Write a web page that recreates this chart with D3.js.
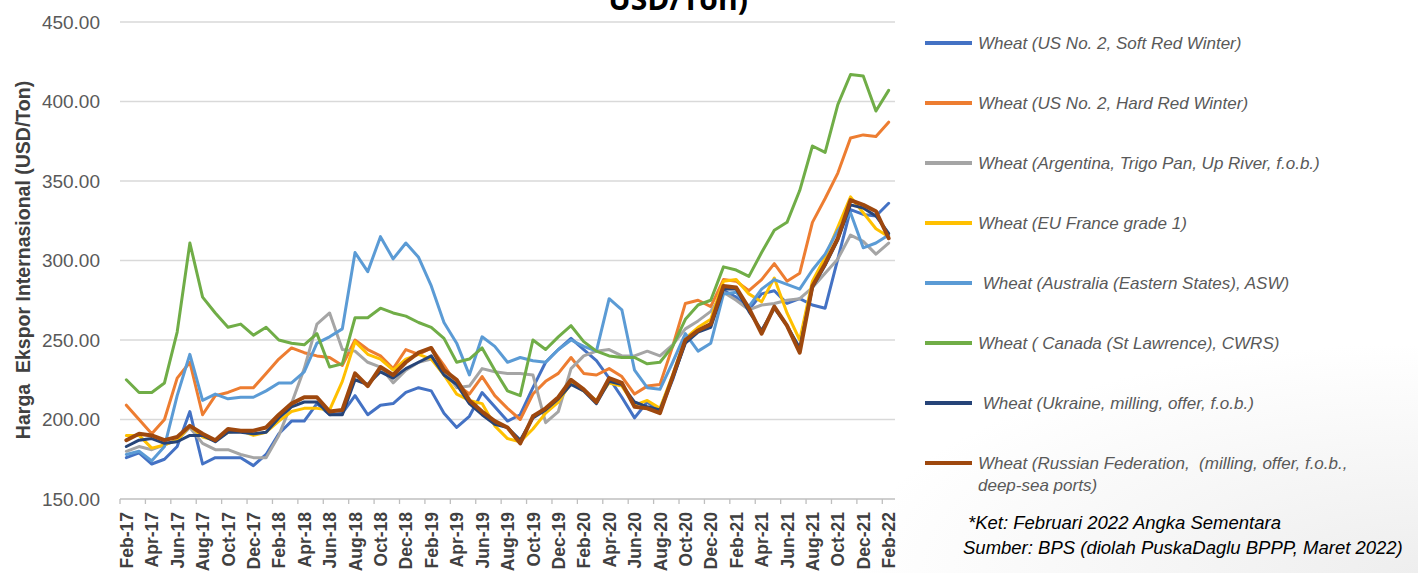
<!DOCTYPE html>
<html>
<head>
<meta charset="utf-8">
<script src="https://cdn.jsdelivr.net/npm/d3@7"></script>
<style>
  body { margin: 0; background: #fff; }
  svg { display: block; }
</style>
</head>
<body>
<svg id="chart" width="1418" height="573"></svg>
<script>
// months on the x axis
var months = ["Feb-17","Mar-17","Apr-17","May-17","Jun-17","Jul-17","Aug-17","Sep-17","Oct-17","Nov-17","Dec-17",
  "Jan-18","Feb-18","Mar-18","Apr-18","May-18","Jun-18","Jul-18","Aug-18","Sep-18","Oct-18","Nov-18","Dec-18",
  "Jan-19","Feb-19","Mar-19","Apr-19","May-19","Jun-19","Jul-19","Aug-19","Sep-19","Oct-19","Nov-19","Dec-19",
  "Jan-20","Feb-20","Mar-20","Apr-20","May-20","Jun-20","Jul-20","Aug-20","Sep-20","Oct-20","Nov-20","Dec-20",
  "Jan-21","Feb-21","Mar-21","Apr-21","May-21","Jun-21","Jul-21","Aug-21","Sep-21","Oct-21","Nov-21","Dec-21",
  "Jan-22","Feb-22"];

// export prices, USD/ton
var usSoftRed = [176,179,172,175,183,205,172,176,176,176,171,178,191,199,199,210,203,204,215,203,209,210,217,220,218,204,195,202,217,208,199,203,220,236,244,251,244,237,226,214,201,211,205,225,249,256,260,281,277,269,279,281,273,276,272,270,301,332,329,328,336];
var usHardRed = [209,200,191,200,226,236,203,215,217,220,220,229,238,245,242,240,239,234,250,244,240,232,244,241,245,234,222,216,227,215,207,200,216,224,229,239,229,228,232,227,216,221,222,246,273,275,271,288,287,281,288,298,287,292,324,339,355,377,379,378,387];
var argentina = [180,183,181,184,187,195,185,181,181,178,176,176,190,210,232,260,267,244,243,236,233,223,231,236,238,231,220,221,232,230,229,229,228,198,205,232,240,243,244,240,240,243,240,247,257,262,268,280,275,269,272,273,275,276,283,292,301,316,312,304,311];
var euFrance = [190,190,182,184,187,196,189,187,192,193,190,192,199,205,207,207,206,224,249,241,238,231,238,241,238,228,216,212,210,196,188,186,194,204,211,223,218,212,223,221,209,212,207,228,251,258,263,287,288,279,274,289,267,250,287,302,321,340,330,320,315];
var australia = [178,180,174,183,215,241,212,216,213,214,214,218,223,223,230,248,252,257,305,293,315,301,311,302,284,261,248,228,252,246,236,239,237,236,244,250,246,243,276,269,231,220,219,236,254,243,248,279,280,271,282,288,285,282,294,304,319,330,308,311,316];
var canada = [225,217,217,223,255,311,277,267,258,260,253,258,250,248,247,254,233,235,264,264,270,267,265,261,258,251,236,238,245,231,218,215,250,244,252,259,249,243,240,239,239,235,236,246,263,272,275,296,294,290,305,319,324,344,372,368,398,417,416,394,407];
var ukraine = [183,187,188,185,186,190,190,186,192,192,191,192,201,208,211,211,203,203,225,222,230,226,232,236,240,228,222,210,203,197,195,187,201,206,213,222,218,210,224,222,211,208,206,226,248,255,258,282,282,268,256,270,259,245,283,297,313,335,333,328,317];
var russia = [187,191,190,187,189,196,191,187,194,193,193,195,203,210,214,214,205,206,229,221,233,228,236,242,245,231,225,212,205,199,195,185,202,207,214,225,219,211,226,223,208,207,204,227,250,256,260,284,283,270,254,271,259,242,284,298,314,338,335,331,314];

var seriesNames = ["Wheat (US No. 2, Soft Red Winter)",
  "Wheat (US No. 2, Hard Red Winter)",
  "Wheat (Argentina, Trigo Pan, Up River, f.o.b.)",
  "Wheat (EU France grade 1)",
  " Wheat (Australia (Eastern States), ASW)",
  "Wheat ( Canada (St Lawrence), CWRS)",
  " Wheat (Ukraine, milling, offer, f.o.b.)",
  "Wheat (Russian Federation,  (milling, offer, f.o.b.,"];
var seriesColors = ["#4472C4","#ED7D31","#A5A5A5","#FFC000","#5B9BD5","#70AD47","#264478","#9E480E"];
var seriesData = [usSoftRed, usHardRed, argentina, euFrance, australia, canada, ukraine, russia];

var yTicks = [150,200,250,300,350,400,450];

var svg = d3.select("#chart");

// faint grey shade in the lower right corner like the slide background
var defs = svg.append("defs");
var grad = defs.append("radialGradient")
  .attr("id", "shade")
  .attr("cx", "1").attr("cy", "1").attr("r", "0.4");
grad.append("stop").attr("offset", "0").attr("stop-color", "#eeeeee");
grad.append("stop").attr("offset", "1").attr("stop-color", "#ffffff");
svg.append("rect")
  .attr("width", 1418).attr("height", 573)
  .attr("fill", "url(#shade)");

// scales - categories sit between tick marks like the excel chart
var x = d3.scalePoint().domain(months).range([120, 895]).padding(0.5);
var y = d3.scaleLinear().domain([150, 450]).range([499, 22]);
var step = x.step();

// title, only the bottom of the second line is visible
svg.append("text")
  .attr("x", 678).attr("y", 10)
  .attr("text-anchor", "middle")
  .style("font-family", "'Open Sans', sans-serif")
  .style("font-weight", "bold")
  .style("font-size", "30px")
  .attr("fill", "#000")
  .text("USD/Ton)");

// horizontal grid lines
svg.append("g").selectAll("line")
  .data(yTicks.slice(1))
  .enter().append("line")
  .attr("x1", 120).attr("x2", 895)
  .attr("y1", function(d) { return y(d); })
  .attr("y2", function(d) { return y(d); })
  .attr("stroke", "#d9d9d9")
  .attr("stroke-width", 1.3);

// y axis labels
var yAxis = svg.append("g")
  .attr("transform", "translate(120,0)")
  .call(d3.axisLeft(y).tickValues(yTicks).tickFormat(d3.format(".2f")).tickSize(0).tickPadding(20));
yAxis.select(".domain").remove();
yAxis.selectAll("text")
  .style("font-family", "'Liberation Sans', Arial, sans-serif")
  .style("font-size", "19px")
  .attr("fill", "#595959");

// y axis title
svg.append("text")
  .attr("transform", "translate(30,260) rotate(-90)")
  .attr("text-anchor", "middle")
  .style("font-family", "'Liberation Sans', Arial, sans-serif")
  .style("font-weight", "bold")
  .style("font-size", "19.5px")
  .style("white-space", "pre")
  .attr("fill", "#404040")
  .text("Harga  Ekspor Internasional (USD/Ton)");

// x axis line and tick marks at category borders (every 2 months)
svg.append("line")
  .attr("x1", 120).attr("x2", 895)
  .attr("y1", y(150)).attr("y2", y(150))
  .attr("stroke", "#bfbfbf").attr("stroke-width", 1.3);

var shown = months.filter(function(d, i) { return i % 2 == 0; });
svg.append("g").selectAll("line")
  .data(shown)
  .enter().append("line")
  .attr("x1", function(d) { return x(d) - step / 2; })
  .attr("x2", function(d) { return x(d) - step / 2; })
  .attr("y1", y(150)).attr("y2", y(150) + 5)
  .attr("stroke", "#bfbfbf").attr("stroke-width", 1.3);

// x labels, rotated
var xAxis = svg.append("g")
  .attr("transform", "translate(0," + y(150) + ")")
  .call(d3.axisBottom(x).tickValues(shown).tickSize(0));
xAxis.select(".domain").remove();
xAxis.selectAll("text")
  .attr("transform", "rotate(-90)")
  .attr("x", -13).attr("y", 0).attr("dy", "0.35em")
  .style("text-anchor", "end")
  .style("font-family", "'Liberation Sans', Arial, sans-serif")
  .style("font-weight", "bold")
  .style("font-size", "17.5px")
  .attr("fill", "#404040");

// the series lines
var line = d3.line()
  .x(function(d, i) { return x(months[i]); })
  .y(function(d) { return y(d); });

for (var s = 0; s < seriesData.length; ++s) {
  svg.append("path")
    .attr("d", line(seriesData[s]))
    .attr("fill", "none")
    .attr("stroke", seriesColors[s])
    .attr("stroke-width", s == 7 ? 4 : 3)
    .attr("stroke-linejoin", "round")
    .attr("stroke-linecap", "round");
}

// legend on the right
for (var k = 0; k < seriesNames.length; ++k) {
  var ly = 43 + 60 * k;
  svg.append("line")
    .attr("x1", 925).attr("x2", 972)
    .attr("y1", ly).attr("y2", ly)
    .attr("stroke", seriesColors[k])
    .attr("stroke-width", 4);
  svg.append("text")
    .attr("x", 978).attr("y", ly + 6)
    .style("font-family", "'Liberation Sans', Arial, sans-serif")
    .style("font-style", "italic")
    .style("font-size", "17px")
    .style("white-space", "pre")
    .attr("fill", "#595959")
    .text(seriesNames[k]);
}
svg.append("text")
  .attr("x", 978).attr("y", 491)
  .style("font-family", "'Liberation Sans', Arial, sans-serif")
  .style("font-style", "italic")
  .style("font-size", "17px")
  .attr("fill", "#595959")
  .text("deep-sea ports)");

// notes
svg.append("text")
  .attr("x", 968).attr("y", 529)
  .style("font-family", "'Liberation Sans', Arial, sans-serif")
  .style("font-style", "italic")
  .style("font-size", "18.5px")
  .attr("fill", "#000")
  .text("*Ket: Februari 2022 Angka Sementara");
svg.append("text")
  .attr("x", 963).attr("y", 554)
  .style("font-family", "'Liberation Sans', Arial, sans-serif")
  .style("font-style", "italic")
  .style("font-size", "18.5px")
  .attr("fill", "#000")
  .text("Sumber: BPS (diolah PuskaDaglu BPPP, Maret 2022)");
</script>
</body>
</html>
